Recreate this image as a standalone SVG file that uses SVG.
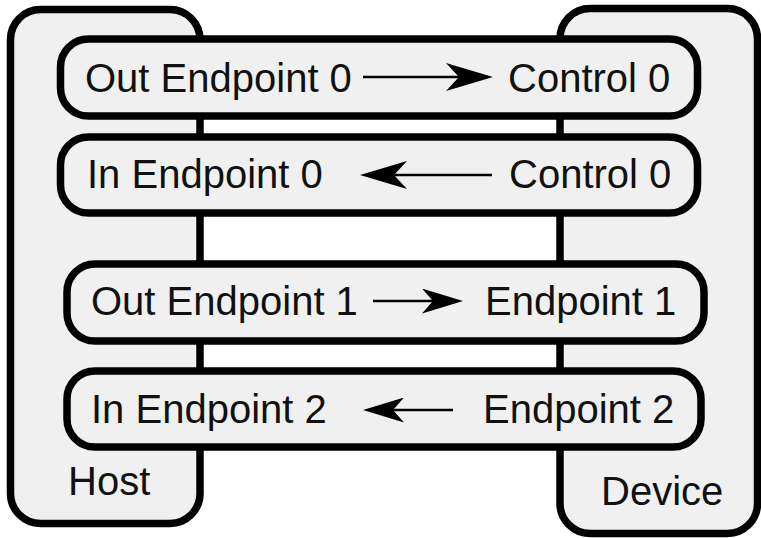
<svg xmlns="http://www.w3.org/2000/svg" width="761" height="538" viewBox="0 0 761 538">
<style>
.box{fill:#f0f0f0;stroke:#000;stroke-width:7.5}
.band{fill:#f0f0f0;stroke:#000;stroke-width:7.5}
.t{font-family:"Liberation Sans",Arial,Helvetica,sans-serif;font-size:40px;fill:#111}
.arr{stroke:#000;stroke-width:2.6;fill:none}
</style>
<defs>
<marker id="ahL" viewBox="0 0 47 28" refX="13" refY="14" markerWidth="47" markerHeight="28" markerUnits="userSpaceOnUse" orient="auto">
<path d="M0,0 L47,14 L0,28 L13,14 Z" fill="#000"/>
</marker>
<marker id="ahS" viewBox="0 0 41 25" refX="11" refY="12.5" markerWidth="41" markerHeight="25" markerUnits="userSpaceOnUse" orient="auto">
<path d="M0,0 L41,12.5 L0,25 L11,12.5 Z" fill="#000"/>
</marker>
</defs>
<rect width="761" height="538" fill="#fff"/>
<g id="host">
<rect class="box" x="10.5" y="9.5" width="189.5" height="514" rx="30"/>
<text class="t" x="68" y="495">Host</text>
</g>
<g id="device">
<rect class="box" x="560" y="8.5" width="197.5" height="525" rx="30"/>
<text class="t" x="601" y="505">Device</text>
</g>
<g id="pipe-out0">
<rect class="band" x="60.5" y="39" width="637" height="77" rx="28"/>
<text class="t" x="85" y="92">Out Endpoint 0</text>
<text class="t" x="508" y="92">Control 0</text>
</g>
<g id="pipe-in0">
<rect class="band" x="60.5" y="137" width="637" height="76" rx="28"/>
<text class="t" x="87" y="188">In Endpoint 0</text>
<text class="t" x="509" y="188">Control 0</text>
</g>
<g id="pipe-out1">
<rect class="band" x="67" y="264" width="637" height="77" rx="28"/>
<text class="t" x="91" y="315">Out Endpoint 1</text>
<text class="t" x="485" y="315">Endpoint 1</text>
</g>
<g id="pipe-in2">
<rect class="band" x="67" y="371" width="634" height="76" rx="28"/>
<text class="t" x="91" y="423">In Endpoint 2</text>
<text class="t" x="483" y="423">Endpoint 2</text>
</g>
<g id="connectors">
<line class="arr" x1="363" y1="77" x2="459" y2="77" marker-end="url(#ahL)"/>
<line class="arr" x1="492" y1="175" x2="394" y2="175" marker-end="url(#ahL)"/>
<line class="arr" x1="373" y1="301" x2="433" y2="301" marker-end="url(#ahS)"/>
<line class="arr" x1="453" y1="410" x2="393" y2="410" marker-end="url(#ahS)"/>
</g>
</svg>
